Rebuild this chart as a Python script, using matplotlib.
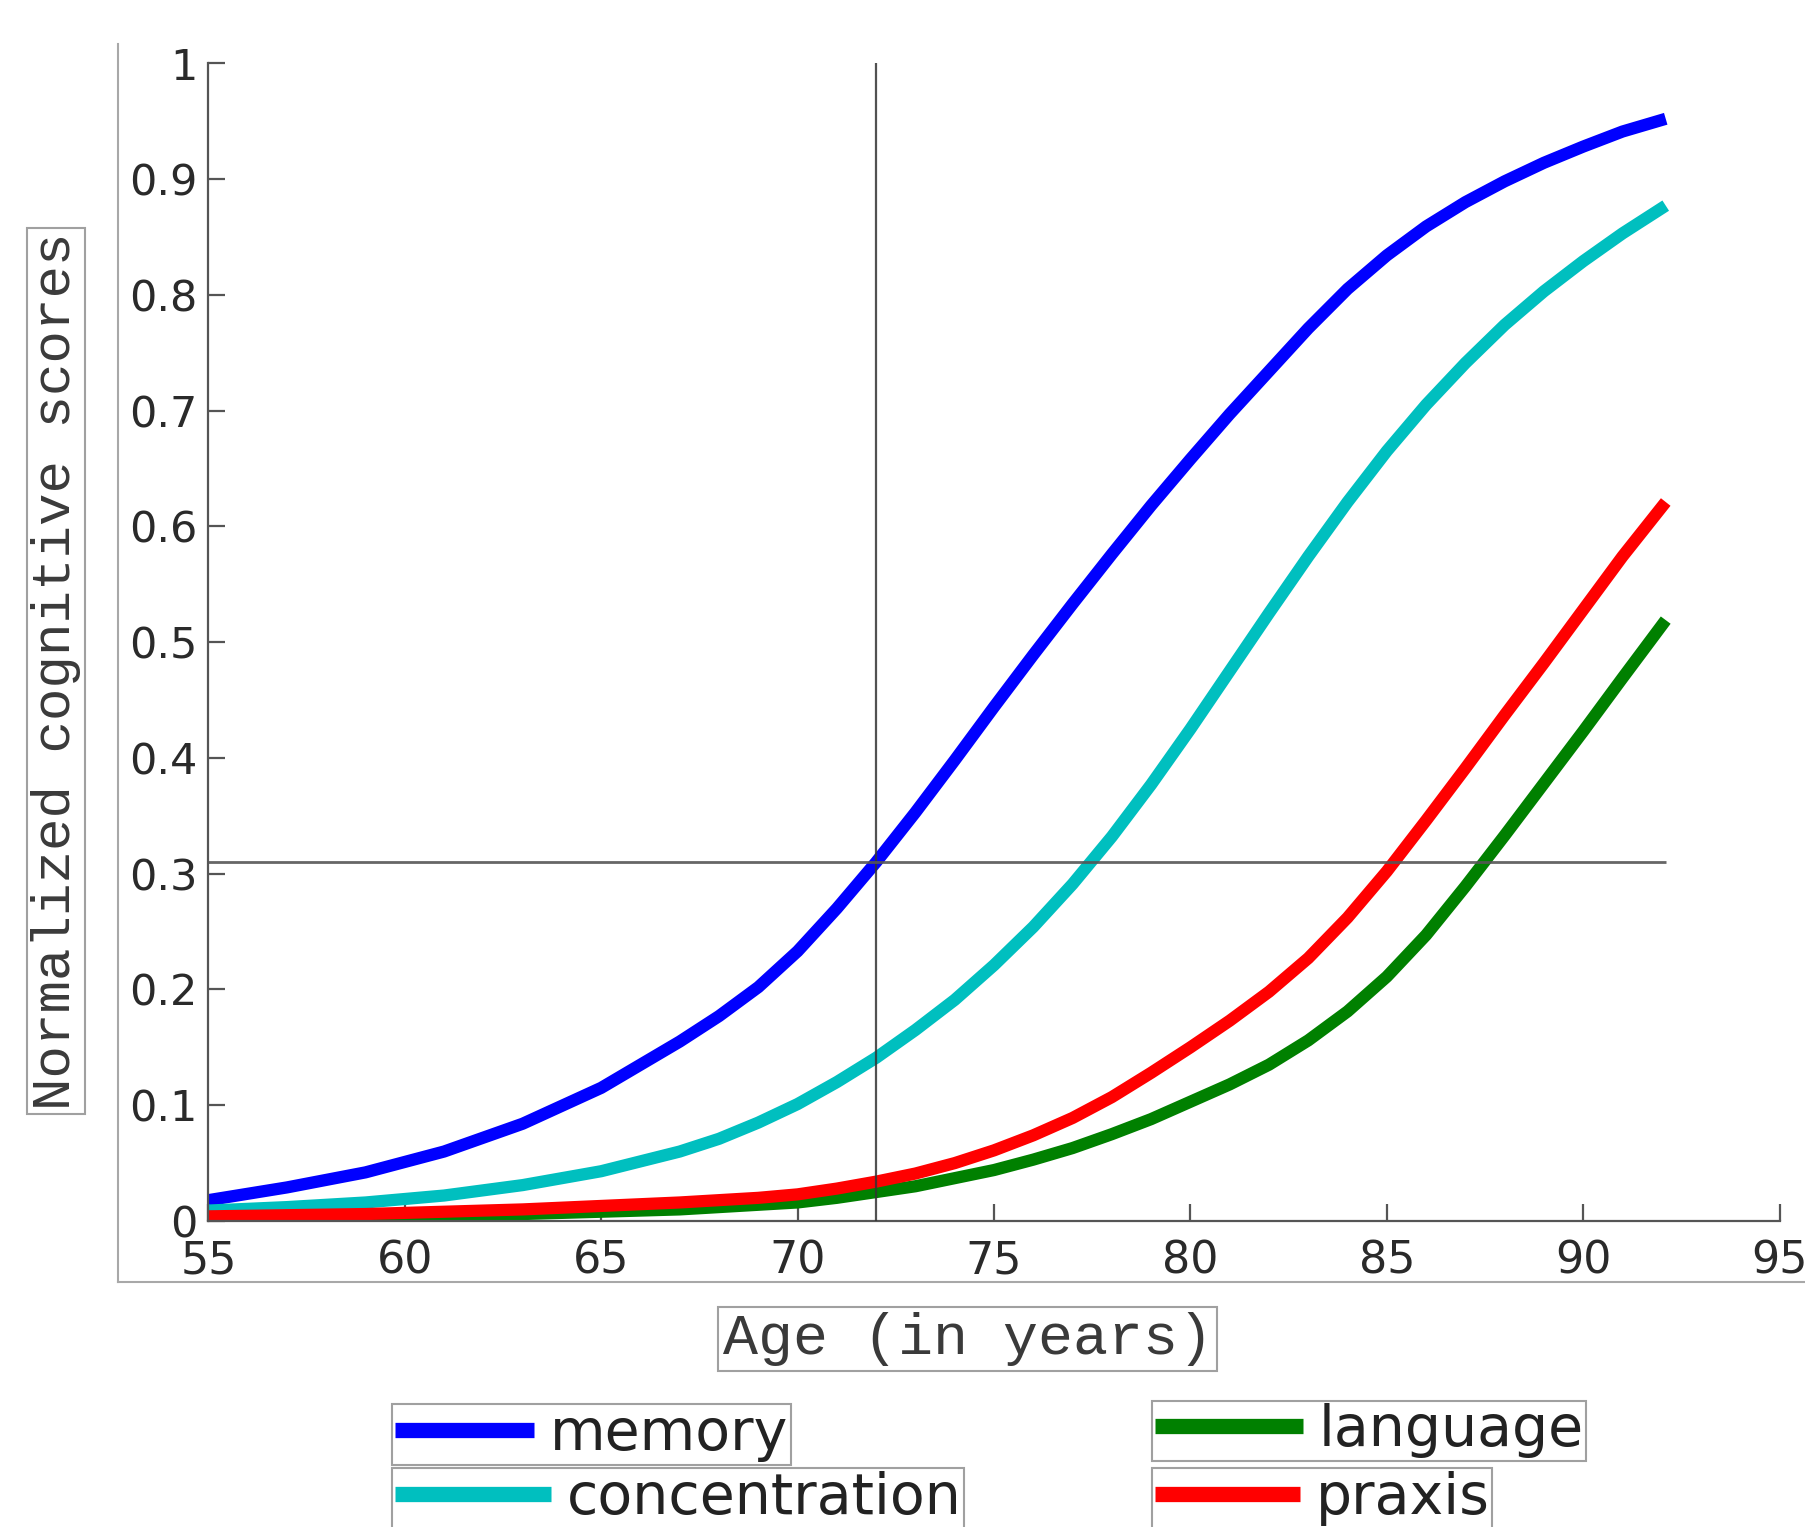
import matplotlib
matplotlib.use("Agg")
import matplotlib.pyplot as plt
from matplotlib.lines import Line2D

ages = [55, 57, 59, 61, 63, 65, 67, 68, 69, 70, 71, 72, 73, 74, 75, 76,
        77, 78, 79, 80, 81, 82, 83, 84, 85, 86, 87, 88, 89, 90, 91, 92.1]

memory = [0.018, 0.029, 0.042, 0.060, 0.084, 0.115, 0.155, 0.177, 0.202, 0.233,
          0.270, 0.310, 0.353, 0.398, 0.444, 0.489, 0.533, 0.576, 0.618, 0.658,
          0.697, 0.734, 0.771, 0.805, 0.834, 0.859, 0.880, 0.898, 0.914, 0.928,
          0.941, 0.952]
concentration = [0.009, 0.012, 0.016, 0.022, 0.031, 0.043, 0.060, 0.071, 0.085,
                 0.101, 0.120, 0.141, 0.165, 0.191, 0.221, 0.254, 0.291, 0.332,
                 0.377, 0.425, 0.475, 0.525, 0.574, 0.621, 0.665, 0.705, 0.741,
                 0.774, 0.803, 0.829, 0.853, 0.877]
language = [0.002, 0.003, 0.004, 0.005, 0.006, 0.008, 0.010, 0.012, 0.014, 0.016,
            0.020, 0.025, 0.030, 0.037, 0.044, 0.053, 0.063, 0.075, 0.088, 0.103,
            0.118, 0.135, 0.156, 0.181, 0.211, 0.247, 0.289, 0.333, 0.378, 0.423,
            0.469, 0.519]
praxis = [0.004, 0.005, 0.006, 0.008, 0.010, 0.013, 0.016, 0.018, 0.020, 0.023,
          0.028, 0.034, 0.041, 0.050, 0.061, 0.074, 0.089, 0.107, 0.128, 0.150,
          0.173, 0.198, 0.227, 0.262, 0.302, 0.346, 0.391, 0.437, 0.482, 0.528,
          0.574, 0.621]

onset_age = 72
threshold = 0.31

xticks = [55, 60, 65, 70, 75, 80, 85, 90, 95]
yticks = [0, 0.1, 0.2, 0.3, 0.4, 0.5, 0.6, 0.7, 0.8, 0.9, 1]
ytick_labels = ["0", "0.1", "0.2", "0.3", "0.4", "0.5", "0.6", "0.7", "0.8", "0.9", "1"]

fig = plt.figure(figsize=(18.06, 15.27), dpi=100)
ax = fig.add_axes([0.1154, 0.2004, 0.8700, 0.7582])

lw = 8.8
l_mem, = ax.plot(ages, memory, color="#0000ff", lw=lw, solid_capstyle="butt", solid_joinstyle="round")
l_con, = ax.plot(ages, concentration, color="#00bfbf", lw=lw, solid_capstyle="butt", solid_joinstyle="round")
l_lan, = ax.plot(ages, language, color="#008000", lw=lw, solid_capstyle="butt", solid_joinstyle="round")
l_pra, = ax.plot(ages, praxis, color="#ff0000", lw=lw, solid_capstyle="butt", solid_joinstyle="round")

ax.axvline(onset_age, color="#333333", lw=1.6, alpha=0.85, zorder=5)
ax.hlines(threshold, ages[0], ages[-1], color="#555555", lw=2.0, alpha=0.9, zorder=5)

ax.set_xlim(55, 95)
ax.set_ylim(0, 1)
ax.set_xticks(xticks)
ax.set_yticks(yticks)
ax.set_yticklabels(ytick_labels)

for s in ["top", "right"]:
    ax.spines[s].set_visible(False)
for s in ["left", "bottom"]:
    ax.spines[s].set_color("#555555")
    ax.spines[s].set_linewidth(1.6)

ax.tick_params(axis="both", direction="in", length=12, width=1.6, color="#555555",
               labelcolor="#2a2a2a")
ax.tick_params(axis="y", labelsize=31, pad=8)
ax.tick_params(axis="x", labelsize=32, pad=13)

# light grey frame around the plot (left and bottom edges only)
fig.add_artist(Line2D([0.0655, 0.0655], [0.1607, 0.9713], transform=fig.transFigure,
                      color="#a8a8a8", lw=1.5))
fig.add_artist(Line2D([0.0655, 1.0], [0.1607, 0.1607], transform=fig.transFigure,
                      color="#a8a8a8", lw=1.5))

box = dict(boxstyle="square,pad=0.08", fc="white", ec="#a0a0a0", lw=1.5)
fig.text(0.031, 0.5606, "Normalized cognitive scores", rotation=90, ha="center",
         va="center", family="Liberation Mono", size=39, color="#3a3a3a", bbox=box)
fig.text(0.5358, 0.1231, "Age (in years)", ha="center", va="center",
         family="Liberation Mono", size=42, color="#3a3a3a", bbox=box)

# one boxed legend per entry, like the original
entries = [(l_mem, "memory", 0.2169, 0.0805, 2.45),
           (l_con, "concentration", 0.2169, 0.0386, 2.75),
           (l_lan, "language", 0.6379, 0.0828, 2.6),
           (l_pra, "praxis", 0.6379, 0.0386, 2.55)]
for h, lab, x0, y0, hl in entries:
    leg = fig.legend([h], [lab], loc="upper left", bbox_to_anchor=(x0, y0),
                     bbox_transform=fig.transFigure, prop={"family": "DejaVu Sans", "size": 41},
                     frameon=True, fancybox=False, edgecolor="#a0a0a0", framealpha=1,
                     borderpad=0.05, handlelength=hl, handletextpad=0.27, borderaxespad=0)
    leg.get_frame().set_linewidth(1.5)
    for t in leg.get_texts():
        t.set_color("#222222")
    for ln in leg.get_lines():
        ln.set_linewidth(11)

fig.savefig("out.png", dpi=100)
